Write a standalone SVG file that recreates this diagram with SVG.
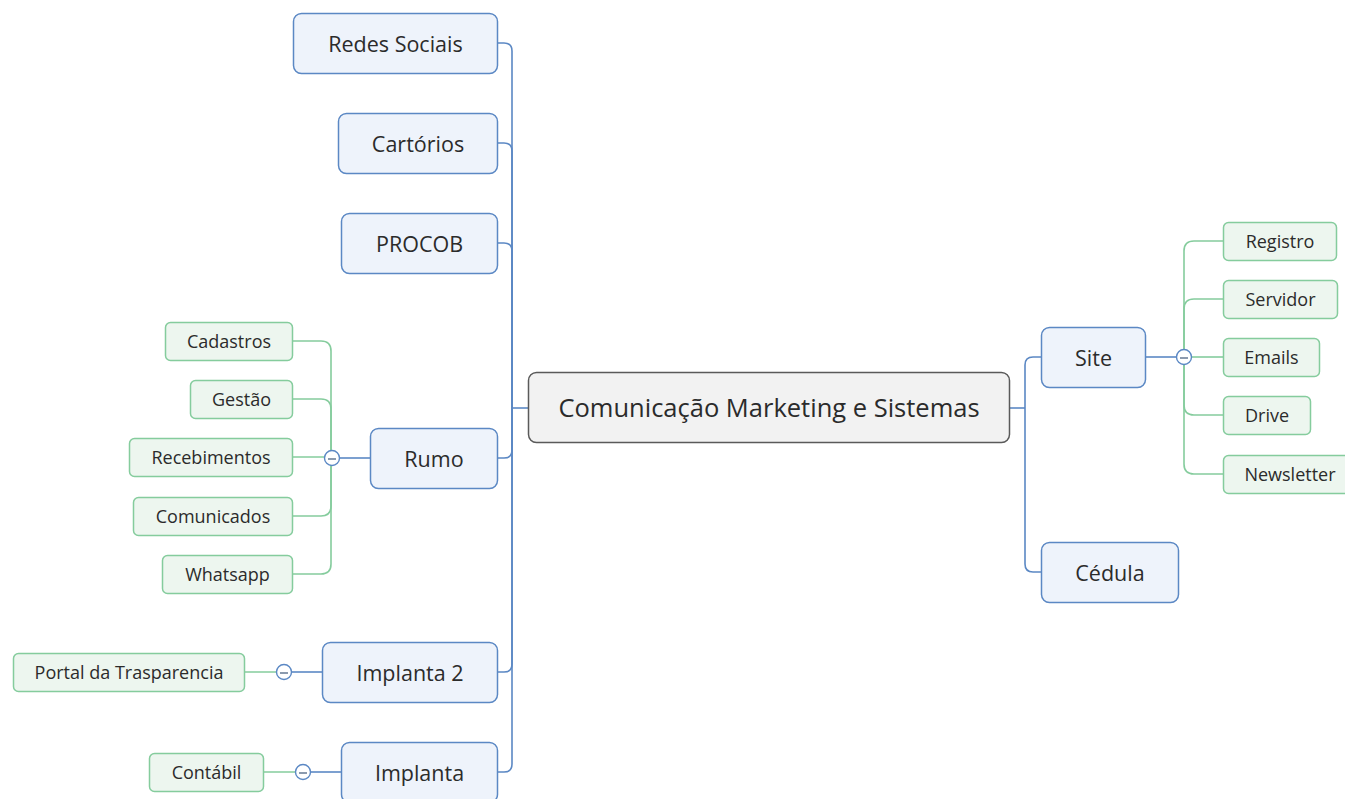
<svg xmlns="http://www.w3.org/2000/svg" width="1345" height="799" viewBox="0 0 1345 799">
<style>
.bg{fill:#ffffff}
.root rect{fill:#f2f2f2;stroke:#5a5a5a;stroke-width:1.5}
.main rect{fill:#eef3fb;stroke:#5b88c4;stroke-width:1.5}
.sub rect{fill:#edf6ef;stroke:#85cc9d;stroke-width:1.5}
text{font-family:"Open Sans","Noto Sans",sans-serif;fill:#2b2b2b;text-anchor:middle;dominant-baseline:central}
.root text{font-size:25.5px}
.main text{font-size:21.5px}
.sub text{font-size:18px}
.cb{fill:none;stroke:#5b88c4;stroke-width:1.6}
.cg{fill:none;stroke:#85cc9d;stroke-width:1.6}
.toggle circle{fill:#ffffff;stroke:#5b88c4;stroke-width:1.4}
.toggle line{stroke:#5a6f8c;stroke-width:1.4}
</style>
<rect class="bg" x="0" y="0" width="1345" height="799"/>
<g id="connectors">
  <path class="cb" d="M528,408 H512"/>
  <path class="cb" d="M512,408 V51 Q512,43 504,43 H497"/>
  <path class="cb" d="M512,408 V151 Q512,143 504,143 H497"/>
  <path class="cb" d="M512,408 V251 Q512,243 504,243 H497"/>
  <path class="cb" d="M512,408 V450 Q512,458 504,458 H497"/>
  <path class="cb" d="M512,408 V664 Q512,672 504,672 H497"/>
  <path class="cb" d="M512,408 V764 Q512,772 504,772 H497"/>
  <path class="cb" d="M1009,408 H1025"/>
  <path class="cb" d="M1025,408 V365 Q1025,357 1033,357 H1041"/>
  <path class="cb" d="M1025,408 V564 Q1025,572 1033,572 H1041"/>
  <path class="cb" d="M370,458 H339"/>
  <path class="cg" d="M331,458 V351 Q331,341 321,341 H292"/>
  <path class="cg" d="M331,458 V409 Q331,399 321,399 H292"/>
  <path class="cg" d="M325,457 H292"/>
  <path class="cg" d="M331,458 V506 Q331,516 321,516 H292"/>
  <path class="cg" d="M331,458 V564 Q331,574 321,574 H292"/>
  <path class="cb" d="M322,672 H291"/>
  <path class="cg" d="M277,672 H244"/>
  <path class="cb" d="M341,772 H310"/>
  <path class="cg" d="M296,772 H263"/>
  <path class="cb" d="M1145,357 H1177"/>
  <path class="cg" d="M1184,357 V251 Q1184,241 1194,241 H1223"/>
  <path class="cg" d="M1184,357 V309 Q1184,299 1194,299 H1223"/>
  <path class="cg" d="M1191,357 H1223"/>
  <path class="cg" d="M1184,357 V405 Q1184,415 1194,415 H1223"/>
  <path class="cg" d="M1184,357 V464 Q1184,474 1194,474 H1223"/>
</g>
<g class="toggle" id="toggle-rumo"><circle cx="332" cy="458" r="7.5"/><line x1="328" y1="459" x2="336" y2="459"/></g>
<g class="toggle" id="toggle-implanta2"><circle cx="284" cy="672" r="7.5"/><line x1="280" y1="673" x2="288" y2="673"/></g>
<g class="toggle" id="toggle-implanta"><circle cx="303" cy="772" r="7.5"/><line x1="299" y1="773" x2="307" y2="773"/></g>
<g class="toggle" id="toggle-site"><circle cx="1184" cy="357" r="7.5"/><line x1="1180" y1="358" x2="1188" y2="358"/></g>

<g class="root" id="node-root"><rect x="528.5" y="372.5" width="481" height="70" rx="8"/><text x="769" y="407">Comunicação Marketing e Sistemas</text></g>

<g class="main" id="node-redes"><rect x="293.5" y="13.5" width="204" height="60" rx="8"/><text x="395.5" y="43">Redes Sociais</text></g>
<g class="main" id="node-cartorios"><rect x="338.5" y="113.5" width="159" height="60" rx="8"/><text x="418" y="143">Cartórios</text></g>
<g class="main" id="node-procob"><rect x="341.5" y="213.5" width="156" height="60" rx="8"/><text x="419.5" y="243">PROCOB</text></g>
<g class="main" id="node-rumo"><rect x="370.5" y="428.5" width="127" height="60" rx="8"/><text x="434" y="458">Rumo</text></g>
<g class="main" id="node-implanta2"><rect x="322.5" y="642.5" width="175" height="60" rx="8"/><text x="410" y="672">Implanta 2</text></g>
<g class="main" id="node-implanta"><rect x="341.5" y="742.5" width="156" height="60" rx="8"/><text x="419.5" y="772">Implanta</text></g>
<g class="main" id="node-site"><rect x="1041.5" y="327.5" width="104" height="60" rx="8"/><text x="1093.5" y="357">Site</text></g>
<g class="main" id="node-cedula"><rect x="1041.5" y="542.5" width="137" height="60" rx="8"/><text x="1110" y="572">Cédula</text></g>

<g class="sub" id="node-cadastros"><rect x="165.5" y="322.5" width="127" height="38" rx="5"/><text x="229" y="341">Cadastros</text></g>
<g class="sub" id="node-gestao"><rect x="190.5" y="380.5" width="102" height="38" rx="5"/><text x="241.5" y="399">Gestão</text></g>
<g class="sub" id="node-recebimentos"><rect x="129.5" y="438.5" width="163" height="38" rx="5"/><text x="211" y="457">Recebimentos</text></g>
<g class="sub" id="node-comunicados"><rect x="133.5" y="497.5" width="159" height="38" rx="5"/><text x="213" y="516">Comunicados</text></g>
<g class="sub" id="node-whatsapp"><rect x="162.5" y="555.5" width="130" height="38" rx="5"/><text x="227.5" y="574">Whatsapp</text></g>
<g class="sub" id="node-portal"><rect x="13.5" y="653.5" width="231" height="38" rx="5"/><text x="129" y="672">Portal da Trasparencia</text></g>
<g class="sub" id="node-contabil"><rect x="149.5" y="753.5" width="114" height="38" rx="5"/><text x="206.5" y="772">Contábil</text></g>
<g class="sub" id="node-registro"><rect x="1223.5" y="222.5" width="113" height="38" rx="5"/><text x="1280" y="241">Registro</text></g>
<g class="sub" id="node-servidor"><rect x="1223.5" y="280.5" width="114" height="38" rx="5"/><text x="1280.5" y="299">Servidor</text></g>
<g class="sub" id="node-emails"><rect x="1223.5" y="338.5" width="96" height="38" rx="5"/><text x="1271.5" y="357">Emails</text></g>
<g class="sub" id="node-drive"><rect x="1223.5" y="396.5" width="87" height="38" rx="5"/><text x="1267" y="415">Drive</text></g>
<g class="sub" id="node-newsletter"><rect x="1223.5" y="455.5" width="130" height="38" rx="5"/><text x="1290" y="474">Newsletter</text></g>
</svg>
